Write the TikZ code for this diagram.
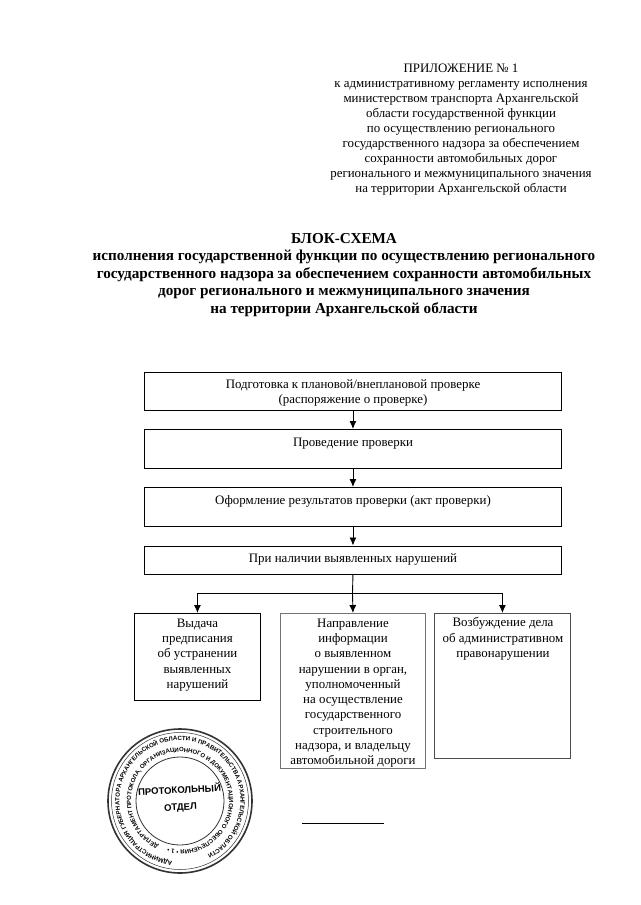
\documentclass[tikz,border=0pt]{standalone}
\usepackage{fontspec}
\setmainfont{Liberation Serif}
\newfontfamily\stampfont{Liberation Sans}
\usetikzlibrary{arrows.meta,decorations.text}
\tikzset{
  flowbox/.style={draw=black,line width=0.9pt,fill=white,align=center,anchor=north west,inner sep=0pt},
  flowtext/.style={align=center,font=\fontsize{12.9}{15.3}\selectfont,anchor=north,inner sep=0pt},
  flowarrow/.style={draw=black,line width=0.9pt,-{Latex[length=8pt,width=7pt]}},
  flowline/.style={draw=black,line width=0.9pt},
  plain/.style={align=center,inner sep=0pt,anchor=north},
  ring/.style={draw=black!80},
}
\begin{document}
\begin{tikzpicture}[x=1pt,y=-1pt]
\useasboundingbox (0,0) rectangle (640,905);
\fill[white] (0,0) rectangle (640,905);
\node[plain,font=\fontsize{12.9}{15}\selectfont] (head) at (461,63.5) {ПРИЛОЖЕНИЕ № 1\\к административному регламенту исполнения\\министерством транспорта Архангельской\\области государственной функции\\по осуществлению регионального\\государственного надзора за обеспечением\\сохранности автомобильных дорог\\регионального и межмуниципального значения\\на территории Архангельской области};
\node[plain,font=\fontsize{15.2}{17.5}\selectfont\bfseries] (title) at (344,233) {БЛОК-СХЕМА\\исполнения государственной функции по осуществлению регионального\\государственного надзора за обеспечением сохранности автомобильных\\дорог регионального и межмуниципального значения\\на территории Архангельской области};
\node[flowbox,minimum width=417pt,minimum height=38pt] (b1) at (144,372) {};
\node[flowbox,minimum width=417pt,minimum height=39pt] (b2) at (144,429) {};
\node[flowbox,minimum width=417pt,minimum height=39pt] (b3) at (144,487) {};
\node[flowbox,minimum width=417pt,minimum height=28.5pt] (b4) at (144,545.5) {};
\node[flowbox,minimum width=126pt,minimum height=87pt] (b5) at (134,613) {};
\node[flowbox,minimum width=145pt,minimum height=155pt,draw=black!55] (b6) at (280,613) {};
\node[flowbox,minimum width=136pt,minimum height=145pt,draw=black!70] (b7) at (434,613) {};
\node[flowtext] (t1) at (353,379.5) {Подготовка к плановой/внеплановой проверке\\(распоряжение о проверке)};
\node[flowtext] (t2) at (353,438) {Проведение проверки};
\node[flowtext] (t3) at (353,495) {Оформление результатов проверки (акт проверки)};
\node[flowtext] (t4) at (353,553) {При наличии выявленных нарушений};
\node[flowtext] (t5) at (197.5,618.5) {Выдача\\предписания\\об устранении\\выявленных\\нарушений};
\node[flowtext] (t6) at (353,618.5) {Направление\\информации\\о выявленном\\нарушении в орган,\\уполномоченный\\на осуществление\\государственного\\строительного\\надзора, и владельцу\\автомобильной дороги};
\node[flowtext] (t7) at (503,617.5) {Возбуждение дела\\об административном\\правонарушении};
\draw[flowarrow] (b1.south) -- (b2.north);
\draw[flowarrow] (b2.south) -- (b3.north);
\draw[flowarrow] (b3.south) -- (b4.north);
\coordinate (fork) at (352.5,593);
\draw[flowline] (b4.south) -- (fork);
\draw[flowarrow] (fork) -- (b6.north);
\draw[flowarrow] (fork) -| (b5.north);
\draw[flowarrow] (fork) -| (b7.north);
\coordinate (rs) at (302,823);
\coordinate (re) at (384,823);
\draw[line width=0.7pt] (rs) -- (re);
% stamp
\begin{scope}[shift={(180,801)},y=1pt]
\draw[ring,line width=1.6pt] (0,0) circle[radius=72];
\draw[ring,line width=0.5pt] (0,0) circle[radius=68.5];
\draw[ring,line width=0.8pt] (0,0) circle[radius=44];
\path[decorate,decoration={text along path,text align=center,
  text={|\stampfont\fontsize{6.1}{7}\selectfont\bfseries|АДМИНИСТРАЦИЯ ГУБЕРНАТОРА АРХАНГЕЛЬСКОЙ ОБЛАСТИ И ПРАВИТЕЛЬСТВА АРХАНГЕЛЬСКОЙ ОБЛАСТИ}}]
  (-85:60.5) arc[start angle=-85,delta angle=-350,radius=60.5];
\path[decorate,decoration={text along path,text align=center,
  text={|\stampfont\fontsize{6}{7}\selectfont\bfseries|ДЕПАРТАМЕНТ ПРОТОКОЛА, ОРГАНИЗАЦИОННОГО И ДОКУМЕНТАЦИОННОГО ОБЕСПЕЧЕНИЯ • 1 •}}]
  (-115:49) arc[start angle=-115,delta angle=-350,radius=49];
\node[font=\stampfont\fontsize{9.5}{17}\selectfont\bfseries,align=center,rotate=3] (st) at (0,2.5) {ПРОТОКОЛЬНЫЙ\\ОТДЕЛ};
\end{scope}
\end{tikzpicture}
\end{document}
